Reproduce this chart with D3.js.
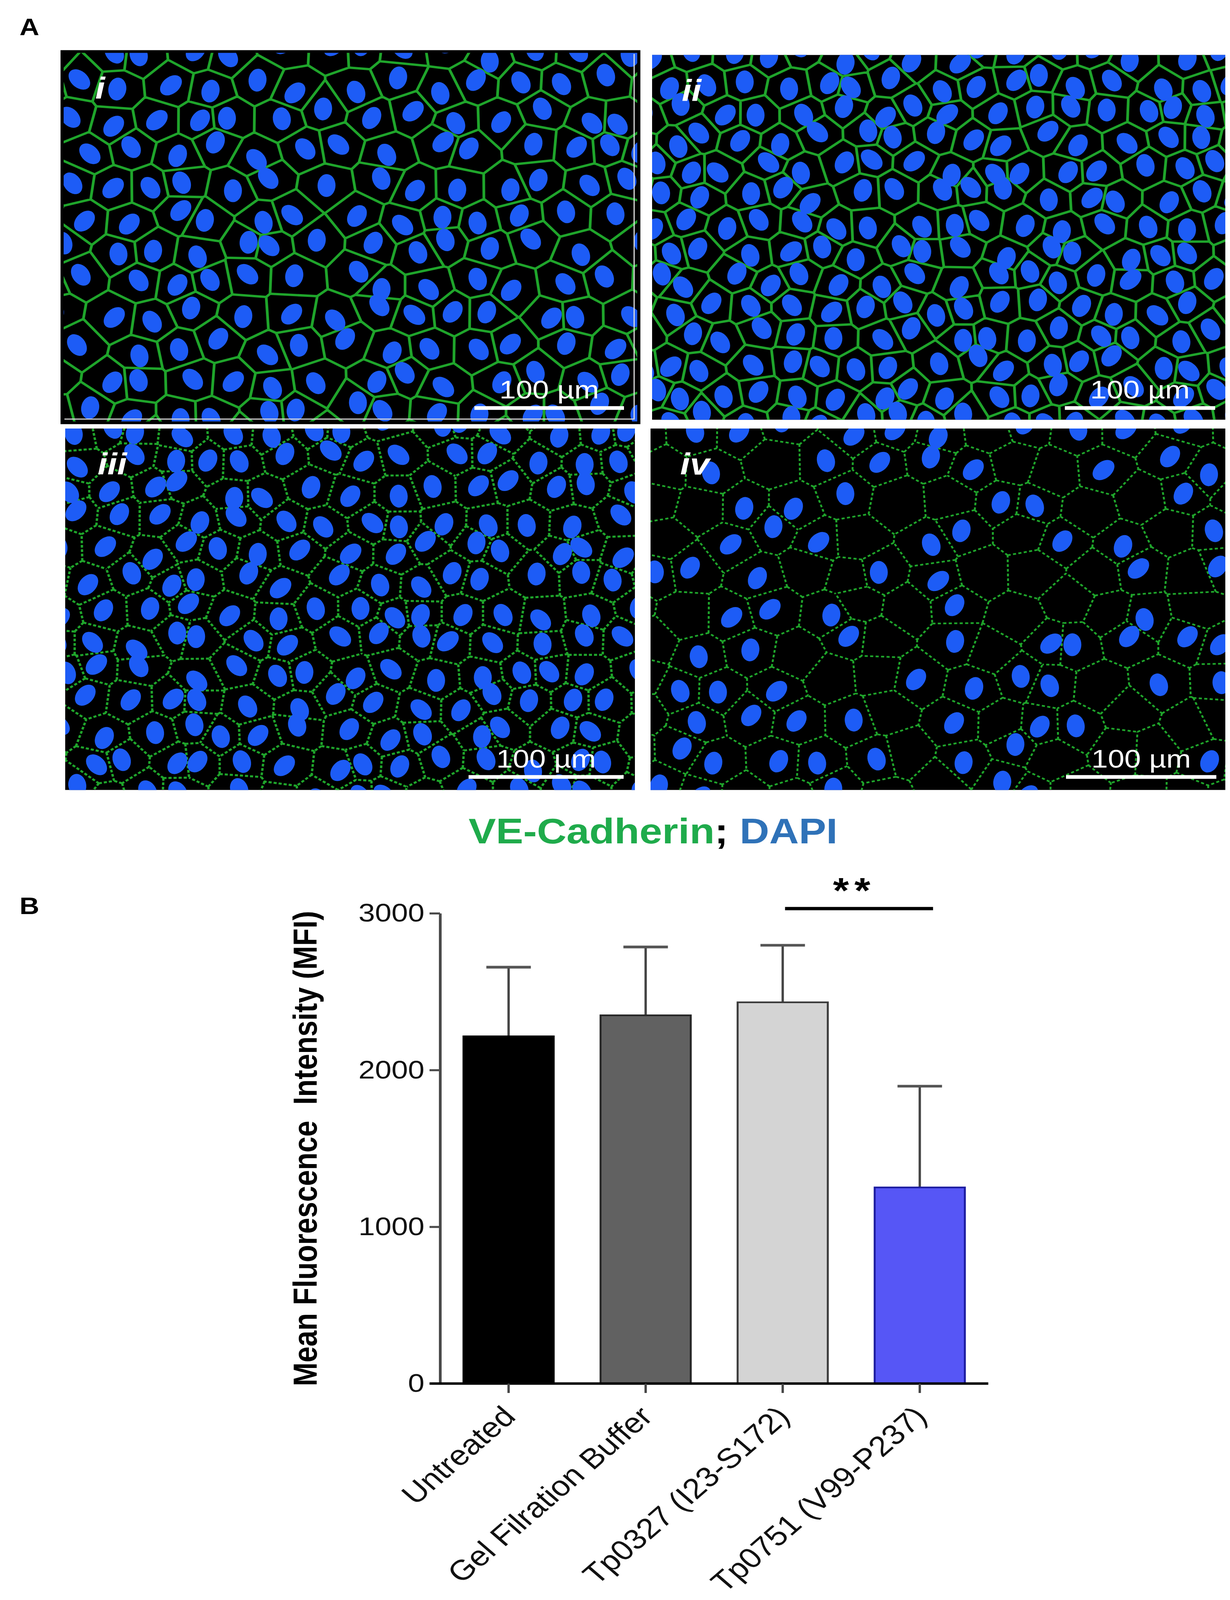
<!DOCTYPE html>
<html>
<head>
<meta charset="utf-8">
<script src="https://cdn.jsdelivr.net/npm/d3@7"></script>
<style>
  html, body { margin: 0; background: #fff; overflow: hidden; }
  svg { display: block; }
  text { font-family: "Liberation Sans", Arial, sans-serif; }
</style>
</head>
<body>
<div id="chart"></div>
<script>
// bar chart data (panel B)
var categories = ['Untreated', 'Gel Filration Buffer', 'Tp0327 (I23-S172)', 'Tp0751 (V99-P237)'];
var meanValues = [2215, 2349, 2432, 1251];
var errorValues = [441, 436, 364, 646];
var barColors = ['#000000', '#616161', '#d4d4d4', '#5656f6'];
var barStrokes = ['#000000', '#262626', '#3a3a3a', '#1c1ca0'];
var yTicks = [0, 1000, 2000, 3000];
var sigPairs = [{from: 2, to: 3, level: 3030, label: '**'}];

// microscopy panels (panel A)
var panelLabels = ['i', 'ii', 'iii', 'iv'];
var scaleBarText = '100 \u00b5m';

// drawing is laid out in the figure's own 3150 x 4753 space,
// then fitted into whatever the window really shows
var W = 3150, H = 4753;
var viewH = Math.min(window.innerHeight || H, H);

var svg = d3.select("#chart").append("svg")
  .attr("width", W)
  .attr("height", viewH)
  .attr("viewBox", "0 0 " + W + " " + H)
  .attr("preserveAspectRatio", "none");

svg.append("rect").attr("width", W).attr("height", H).attr("fill", "#fff");

// ---------- panel A ----------
var panels = [
  {x: 159, y: 153, w: 1477, h: 1103, sp: 112, sw: 7, dash: null, keep: 0, lx: 244, ly: 294, bar: [1215, 1598, 1212]},
  {x: 1670, y: 163, w: 1468, h: 1084, sp: 96, sw: 7, dash: null, keep: 0, lx: 1746, ly: 300, bar: [2727, 3112, 1212]},
  {x: 167, y: 1273, w: 1459, h: 1074, sp: 104, sw: 6, dash: '8 5', keep: 0, lx: 250, ly: 1410, bar: [1200, 1597, 2308]},
  {x: 1666, y: 1273, w: 1472, h: 1074, sp: 124, sw: 5, dash: '8 6', keep: 0.3, lx: 1742, ly: 1410, bar: [2730, 3115, 2308]}
];

// deterministic texture helper, only used to paint the micrograph look
function hash(i, j, k) {
  var s = Math.sin(i * 127.1 + j * 311.7 + k * 74.7) * 43758.5453;
  return s - Math.floor(s);
}

var defs = svg.append("defs");

panels.forEach(function(p, pi) {
  defs.append("clipPath").attr("id", "clip" + pi)
    .append("rect").attr("x", p.x).attr("y", p.y).attr("width", p.w).attr("height", p.h);

  var g = svg.append("g").attr("clip-path", "url(#clip" + pi + ")");
  g.append("rect")
    .attr("x", p.x).attr("y", p.y).attr("width", p.w).attr("height", p.h)
    .attr("fill", "#000");

  var pts = [];
  var rowH = p.sp * 0.87;
  for (var r = -1; r < p.h / rowH + 1; r++) {
    for (var c = -1; c < p.w / p.sp + 1; c++) {
      var jx = (hash(r, c, pi) - 0.5) * p.sp * 0.6;
      var jy = (hash(c, r, pi + 7) - 0.5) * rowH * 0.6;
      pts.push([p.x + (c + (r % 2 ? 0.5 : 0)) * p.sp + jx, p.y + r * rowH + jy, hash(r + 3, c + 5, pi)]);
    }
  }

  var delaunay = d3.Delaunay.from(pts, function(d) { return d[0]; }, function(d) { return d[1]; });
  var vor = delaunay.voronoi([p.x - p.sp, p.y - p.sp, p.x + p.w + p.sp, p.y + p.h + p.sp]);

  g.append("path")
    .attr("d", vor.render())
    .attr("fill", "none")
    .attr("stroke", "#25c232")
    .attr("stroke-width", p.sw)
    .attr("stroke-linejoin", "round")
    .attr("stroke-dasharray", p.dash)
    .attr("stroke-opacity", 0.85);

  g.selectAll("ellipse.nuc")
    .data(pts.filter(function(d) { return d[2] >= p.keep; }))
    .enter().append("ellipse")
    .attr("class", "nuc")
    .attr("cx", function(d) { return d[0]; })
    .attr("cy", function(d) { return d[1]; })
    .attr("rx", 23)
    .attr("ry", 34)
    .attr("transform", function(d) { return "rotate(" + (d[2] * 80 - 40) + "," + d[0] + "," + d[1] + ")"; })
    .attr("fill", "#1d5cf6");

  // scale bar
  g.append("line")
    .attr("x1", p.bar[0]).attr("x2", p.bar[1])
    .attr("y1", p.bar[2]).attr("y2", p.bar[2])
    .attr("stroke", "#fff").attr("stroke-width", 11);
  g.append("text")
    .attr("x", (p.bar[0] + p.bar[1]) / 2)
    .attr("y", p.bar[2] - 28)
    .attr("text-anchor", "middle")
    .attr("font-size", 76)
    .attr("fill", "#fff")
    .text(scaleBarText);

  g.append("text")
    .attr("x", p.lx).attr("y", p.ly)
    .attr("font-size", 90)
    .attr("font-weight", "bold")
    .attr("font-style", "italic")
    .attr("fill", "#fff")
    .text(panelLabels[pi]);
});

// frame of panel i
svg.append("rect")
  .attr("x", 159).attr("y", 153).attr("width", 1477).attr("height", 1103)
  .attr("fill", "none").attr("stroke", "#000").attr("stroke-width", 8);
svg.append("path")
  .attr("d", "M1624,160 V1245 H165")
  .attr("fill", "none").attr("stroke", "#ddd").attr("stroke-width", 3);

svg.append("text").attr("x", 50).attr("y", 104)
  .attr("font-size", 70).attr("font-weight", "bold").text("A");
svg.append("text").attr("x", 50).attr("y", 2715)
  .attr("font-size", 70).attr("font-weight", "bold").text("B");

var stain = svg.append("text")
  .attr("x", 1200).attr("y", 2505)
  .attr("font-size", 105).attr("font-weight", "bold");
stain.append("tspan").attr("fill", "#1fab4b").text("VE-Cadherin");
stain.append("tspan").attr("fill", "#000").text("; ");
stain.append("tspan").attr("fill", "#2f72b8").text("DAPI");

// ---------- panel B ----------
var y = d3.scaleLinear().domain([0, 3000]).range([4110, 2713]);
var x = d3.scaleBand().domain(categories).range([1127, 2531]).paddingInner(0.342).paddingOuter(0.171);
var y0 = y(0);

var chart = svg.append("g");

var yAxis = chart.append("g")
  .attr("transform", "translate(1127,0)")
  .call(d3.axisLeft(y).tickValues(yTicks).tickSize(27).tickSizeOuter(0).tickPadding(13).tickFormat(d3.format("d")));
yAxis.select(".domain").attr("stroke", "#4a4a4a").attr("stroke-width", 7);
yAxis.selectAll(".tick line").attr("stroke", "#4a4a4a").attr("stroke-width", 6);
yAxis.selectAll(".tick text")
  .attr("font-size", 76)
  .attr("fill", "#111")
  .attr("font-family", "\"Liberation Sans\", Arial, sans-serif");

chart.append("text")
  .attr("transform", "translate(811,3412) rotate(-90)")
  .attr("text-anchor", "middle")
  .attr("font-size", 85)
  .attr("font-weight", "bold")
  .style("white-space", "pre")
  .text("Mean Fluorescence  Intensity (MFI)");

// error bars (upper only)
var err = chart.selectAll(".err").data(categories).enter().append("g");
err.append("line")
  .attr("x1", function(d) { return x(d) + x.bandwidth() / 2; })
  .attr("x2", function(d) { return x(d) + x.bandwidth() / 2; })
  .attr("y1", function(d, i) { return y(meanValues[i]); })
  .attr("y2", function(d, i) { return y(meanValues[i] + errorValues[i]); })
  .attr("stroke", "#444").attr("stroke-width", 6);
err.append("line")
  .attr("x1", function(d) { return x(d) + x.bandwidth() / 2 - 57; })
  .attr("x2", function(d) { return x(d) + x.bandwidth() / 2 + 57; })
  .attr("y1", function(d, i) { return y(meanValues[i] + errorValues[i]); })
  .attr("y2", function(d, i) { return y(meanValues[i] + errorValues[i]); })
  .attr("stroke", "#555").attr("stroke-width", 8);

chart.selectAll(".bar").data(categories).enter().append("rect")
  .attr("class", "bar")
  .attr("x", function(d) { return x(d); })
  .attr("width", x.bandwidth())
  .attr("y", function(d, i) { return y(meanValues[i]); })
  .attr("height", function(d, i) { return y0 - y(meanValues[i]); })
  .attr("fill", function(d, i) { return barColors[i]; })
  .attr("stroke", function(d, i) { return barStrokes[i]; })
  .attr("stroke-width", 5);

// x axis
chart.append("line")
  .attr("x1", 1100).attr("x2", 2531)
  .attr("y1", y0).attr("y2", y0)
  .attr("stroke", "#000").attr("stroke-width", 7);

var xt = chart.selectAll(".xt").data(categories).enter().append("g");
xt.append("line")
  .attr("x1", function(d) { return x(d) + x.bandwidth() / 2; })
  .attr("x2", function(d) { return x(d) + x.bandwidth() / 2; })
  .attr("y1", y0).attr("y2", y0 + 28)
  .attr("stroke", "#444").attr("stroke-width", 6);
xt.append("text")
  .attr("transform", function(d) { return "translate(" + (x(d) + x.bandwidth() / 2 + 22) + "," + (y0 + 103) + ") rotate(-45)"; })
  .attr("text-anchor", "end")
  .attr("font-size", 84)
  .attr("fill", "#111")
  .text(function(d) { return d; });

// significance
sigPairs.forEach(function(s) {
  var xa = x(categories[s.from]) + x.bandwidth() / 2 + 6;
  var xb = x(categories[s.to]) + x.bandwidth() / 2 + 34;
  chart.append("line")
    .attr("x1", xa).attr("x2", xb)
    .attr("y1", y(s.level)).attr("y2", y(s.level))
    .attr("stroke", "#000").attr("stroke-width", 10);
  chart.append("text")
    .attr("x", (xa + xb) / 2 - 12)
    .attr("y", y(s.level) - 17)
    .attr("text-anchor", "middle")
    .attr("font-size", 105)
    .attr("font-weight", "bold")
    .attr("letter-spacing", 14)
    .text(s.label);
});
</script>
</body>
</html>
